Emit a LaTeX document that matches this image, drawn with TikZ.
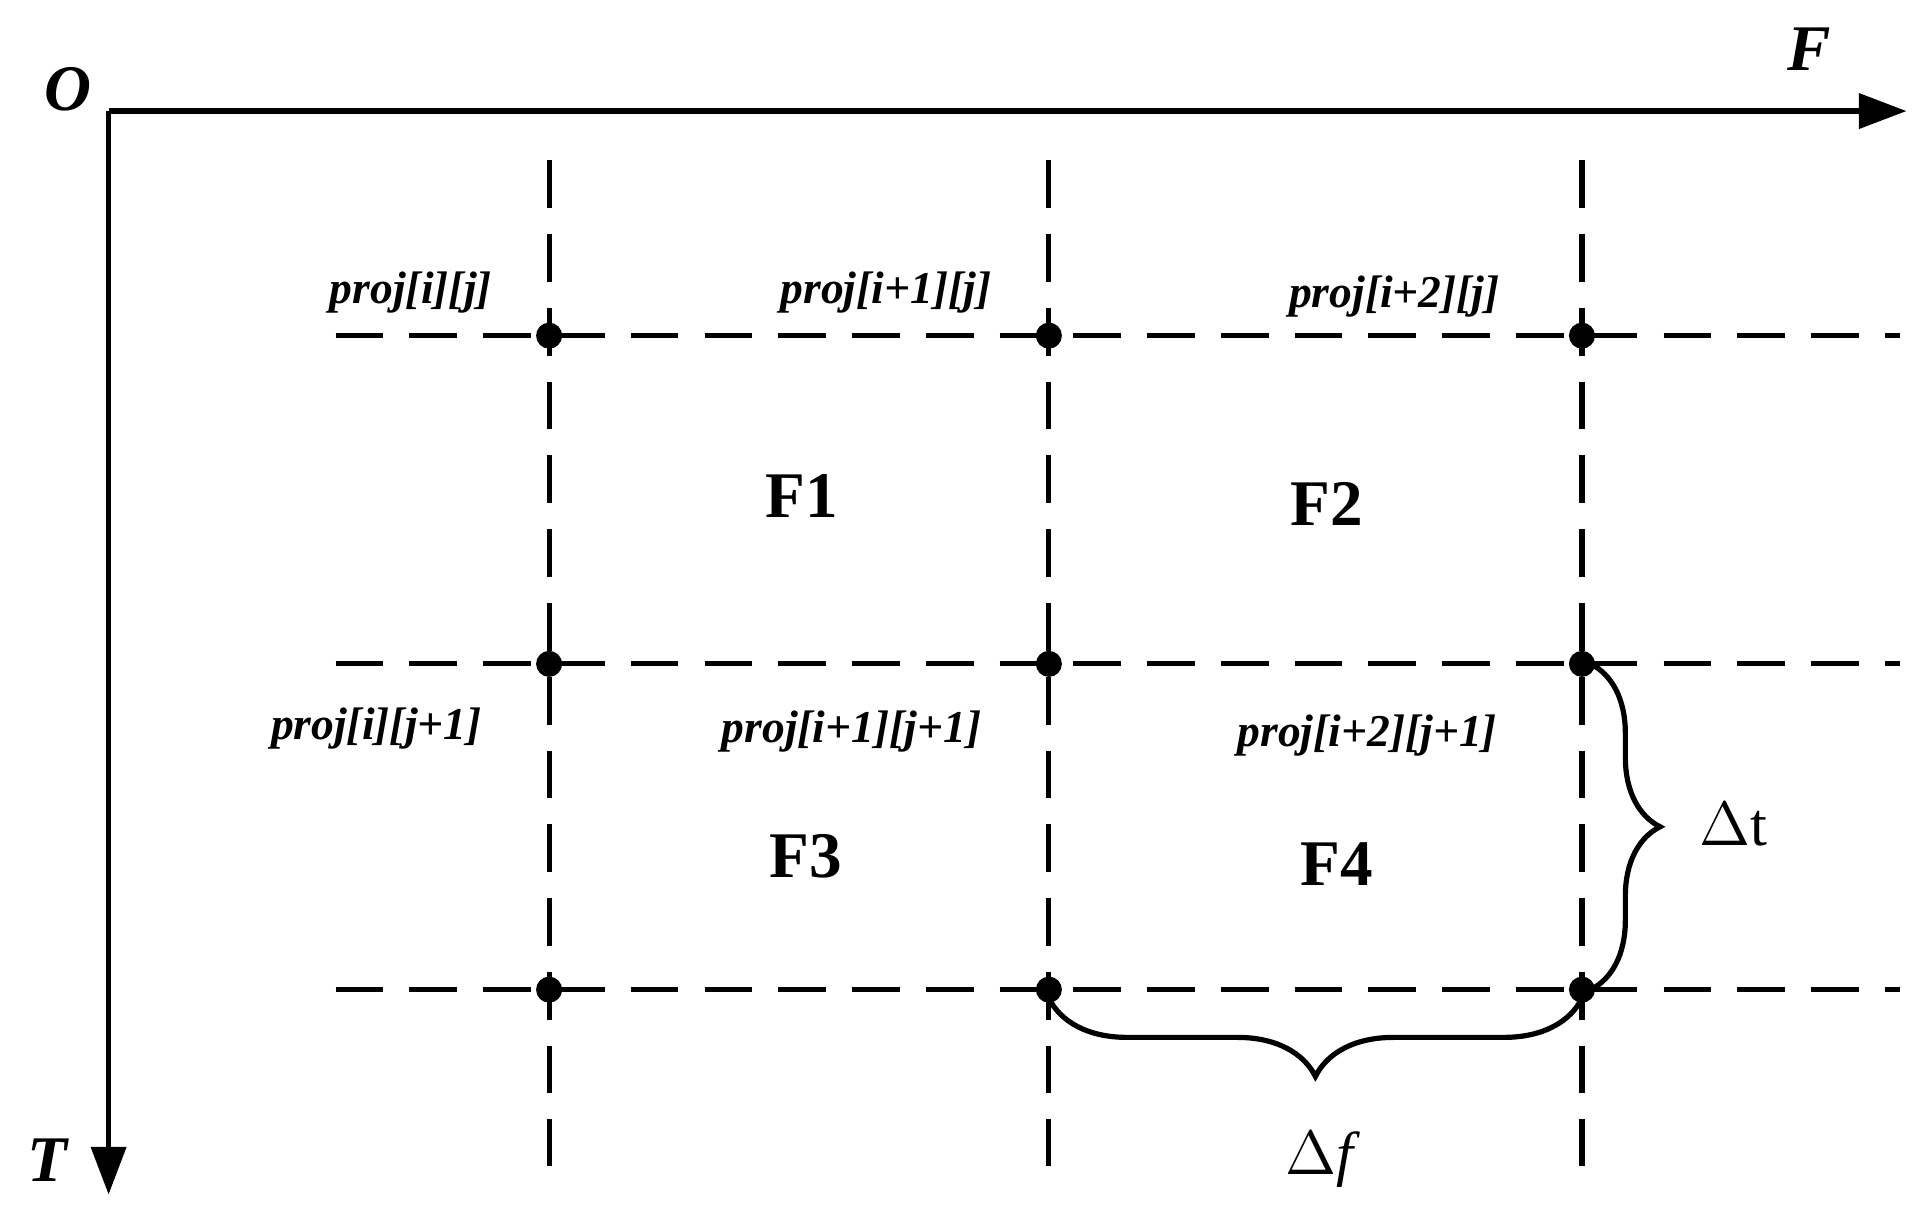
\documentclass[tikz,border=0pt]{standalone}
\usepackage{fontspec}
\setmainfont{Liberation Serif}
\usetikzlibrary{arrows.meta,decorations.pathreplacing}
\begin{document}
\begin{tikzpicture}[x=0.01cm,y=-0.01cm,
  axis/.style={line width=1.2pt,-{Triangle[length=11pt,width=8pt]}},
  grid/.style={line width=1.2pt,dash pattern=on 11pt off 6pt},
  dot/.style={circle,fill=black,inner sep=0pt,minimum size=6pt},
  lab/.style={font=\fontsize{10.5}{12}\selectfont\bfseries\itshape},
  reg/.style={font=\fontsize{15}{17}\selectfont\bfseries},
  ax/.style={font=\fontsize{15}{17}\selectfont\bfseries\itshape},
  br/.style={line width=1.2pt}]
\useasboundingbox (0,0) rectangle (1560,994);
\coordinate (o) at (88,90);
\coordinate (fx) at (1545,90);
\coordinate (ty) at (88,968);
\draw[axis] (o) -- (fx);
\draw[axis] (o) -- (ty);
\node[ax] (lo) at (55,72) {O};
\node[ax] (lf) at (1466,40) {F};
\node[ax] (lt) at (38,940) {T};
\foreach \x/\n in {445/1,850/2,1282/3}{
  \coordinate (vt\n) at (\x,130); \coordinate (vb\n) at (\x,945);
  \draw[grid] (vt\n) -- (vb\n);}
\foreach \y/\n in {272/1,538/2,802/3}{
  \coordinate (hl\n) at (272,\y); \coordinate (hr\n) at (1540,\y);
  \draw[grid] (hl\n) -- (hr\n);}
\foreach \x/\c in {445/1,850/2,1282/3}
  \foreach \y/\r in {272/1,538/2,802/3}
    \node[dot] (d\r\c) at (\x,\y) {};
\node[lab] (p1) at (333,237) {proj[i][j]};
\node[lab] (p2) at (718,237) {proj[i+1][j]};
\node[lab] (p3) at (1130,240) {proj[i+2][j]};
\node[lab] (p4) at (305,590) {proj[i][j+1]};
\node[lab] (p5) at (690,593) {proj[i+1][j+1]};
\node[lab] (p6) at (1108,596) {proj[i+2][j+1]};
\node[reg] (f1) at (650,402) {F1};
\node[reg] (f2) at (1075,408) {F2};
\node[reg] (f3) at (653,694) {F3};
\node[reg] (f4) at (1083,700) {F4};
\draw[br,decorate,decoration={brace,amplitude=16pt,raise=2pt}] (d23.center) -- (d33.center);
\draw[br,decorate,decoration={brace,amplitude=18pt,mirror,raise=2pt}] (d32.center) -- (d33.center);
\node[font=\fontsize{14}{16}\selectfont] (dt) at (1405,668) {$\Delta$t};
\node[font=\fontsize{14}{16}\selectfont] (df) at (1072,940) {$\Delta$\textit{f}};
\end{tikzpicture}
\end{document}
